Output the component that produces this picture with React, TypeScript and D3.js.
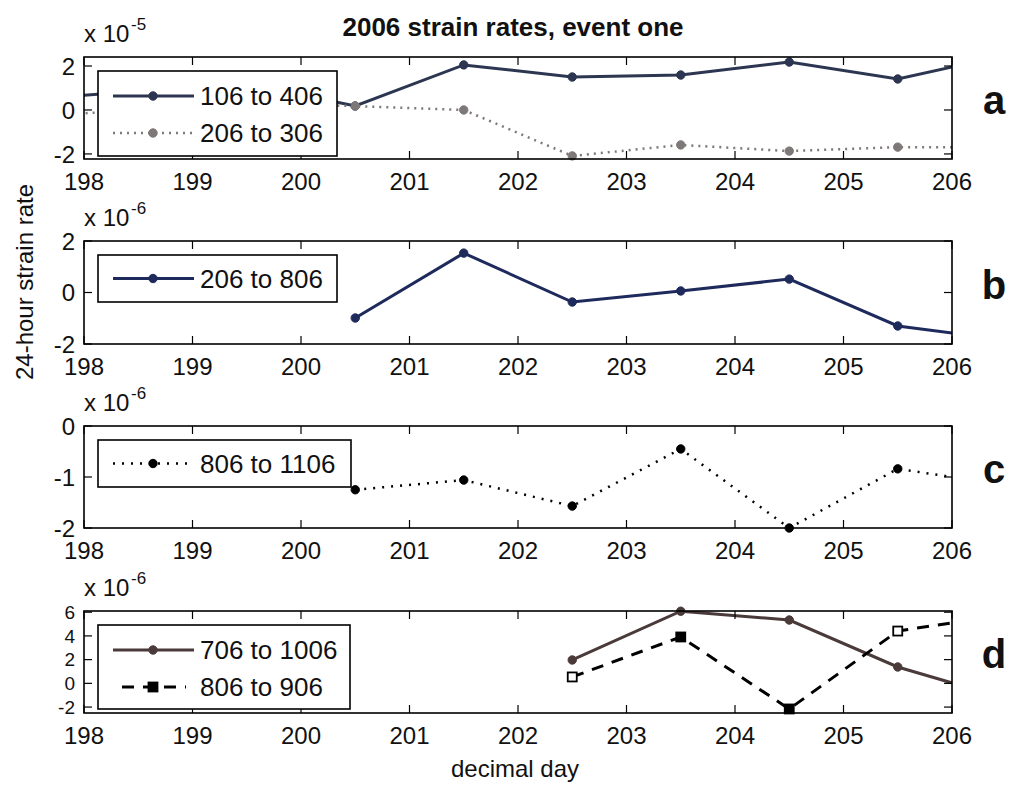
import React from "react";
import * as d3 from "d3";

// ---------- data ----------
const xTicks = [198, 199, 200, 201, 202, 203, 204, 205, 206];

const dayA = [197.5, 198.5, 199.5, 200.5, 201.5, 202.5, 203.5, 204.5, 205.5, 206.5];
const s106to406 = [0.5, 0.85, 1.2, 0.18, 2.05, 1.5, 1.59, 2.18, 1.41, 2.5];
const s206to306 = [-0.3, 0.0, 0.3, 0.18, 0.0, -2.09, -1.59, -1.87, -1.69, -1.69];

const dayB = [200.5, 201.5, 202.5, 203.5, 204.5, 205.5, 206.5];
const s206to806 = [-0.99, 1.53, -0.37, 0.06, 0.52, -1.3, -1.85];

const dayC = [200.5, 201.5, 202.5, 203.5, 204.5, 205.5, 206.5];
const s806to1106 = [-1.25, -1.06, -1.57, -0.45, -2.0, -0.84, -1.16];

const dayD = [202.5, 203.5, 204.5, 205.5, 206.5];
const s706to1006 = [1.97, 6.08, 5.34, 1.38, -1.3];
const s806to906 = [0.54, 3.91, -2.16, 4.41, 5.8];
const openSquareDays = [202.5, 205.5];

const yTicksA = [-2, 0, 2];
const yTicksB = [-2, 0, 2];
const yTicksC = [-2, -1, 0];
const yTicksD = [-2, 0, 2, 4, 6];

const exponents = ["-5", "-6", "-6", "-6"];
const panelLetters = ["a", "b", "c", "d"];

// ---------- layout ----------
const W = 1013;
const H = 787;
const X0 = 84;
const X1 = 952;
const FONT = "'Liberation Sans', Arial, Helvetica, sans-serif";

type Series = {
  name: string;
  days: number[];
  values: number[];
  color: string;
  width: number;
  dash?: string;
  marker: "circle" | "square";
  open?: number[];
};

type Panel = {
  top: number;
  bottom: number;
  domain: [number, number];
  ticks: number[];
  tickFont: number;
  series: Series[];
  legendW: number;
  legendH: number;
};

const panels: Panel[] = [
  {
    top: 57,
    bottom: 159,
    domain: [-2.23, 2.41],
    ticks: yTicksA,
    tickFont: 24,
    legendW: 239,
    legendH: 85,
    series: [
      { name: "106 to 406", days: dayA, values: s106to406, color: "#2c3650", width: 3, marker: "circle" },
      { name: "206 to 306", days: dayA, values: s206to306, color: "#7e7878", width: 2.5, dash: "2 5", marker: "circle" },
    ],
  },
  {
    top: 241,
    bottom: 344,
    domain: [-2, 2],
    ticks: yTicksB,
    tickFont: 24,
    legendW: 239,
    legendH: 47,
    series: [
      { name: "206 to 806", days: dayB, values: s206to806, color: "#1f2a5c", width: 3, marker: "circle" },
    ],
  },
  {
    top: 426,
    bottom: 528,
    domain: [-2, 0],
    ticks: yTicksC,
    tickFont: 24,
    legendW: 253,
    legendH: 47,
    series: [
      { name: "806 to 1106", days: dayC, values: s806to1106, color: "#000000", width: 2.5, dash: "2 7", marker: "circle" },
    ],
  },
  {
    top: 611,
    bottom: 713,
    domain: [-2.5, 6.1],
    ticks: yTicksD,
    tickFont: 19,
    legendW: 252,
    legendH: 84,
    series: [
      { name: "706 to 1006", days: dayD, values: s706to1006, color: "#4a3a3a", width: 3, marker: "circle" },
      { name: "806 to 906", days: dayD, values: s806to906, color: "#000000", width: 3, dash: "12 9", marker: "square", open: openSquareDays },
    ],
  },
];

const x = d3.scaleLinear().domain([198, 206]).range([X0, X1]);

function Marker({ cx, cy, s, open }: { cx: number; cy: number; s: Series; open?: boolean }) {
  if (s.marker === "square") {
    return (
      <rect
        x={cx - 4.5}
        y={cy - 4.5}
        width={9}
        height={9}
        fill={open ? "#fff" : s.color}
        stroke={s.color}
        strokeWidth={1.8}
      />
    );
  }
  return <circle cx={cx} cy={cy} r={4.2} fill={s.color} stroke={s.color} strokeWidth={1} />;
}

function PanelView({ p, i }: { p: Panel; i: number }) {
  const y = d3.scaleLinear().domain(p.domain).range([p.bottom, p.top]);
  const clipId = `clip${i}`;
  const line = d3
    .line<[number, number]>()
    .x((d) => x(d[0]))
    .y((d) => y(d[1]));
  const lx = X0 + 14;
  const ly = p.top + 14;
  const rowCount = p.series.length;
  return (
    <g>
      <defs>
        <clipPath id={clipId}>
          <rect x={X0} y={p.top} width={X1 - X0} height={p.bottom - p.top} />
        </clipPath>
      </defs>
      <rect x={X0} y={p.top} width={X1 - X0} height={p.bottom - p.top} fill="#fff" />
      {p.series.map((s, k) => {
        const pts = s.days.map((d, j) => [d, s.values[j]] as [number, number]);
        return (
          <g key={k}>
            <path
              d={line(pts) || ""}
              fill="none"
              stroke={s.color}
              strokeWidth={s.width}
              strokeDasharray={s.dash}
              clipPath={`url(#${clipId})`}
            />
            {pts
              .filter((d) => d[0] >= 198 && d[0] <= 206)
              .map((d, j) => (
                <Marker key={j} cx={x(d[0])} cy={y(d[1])} s={s} open={s.open ? s.open.includes(d[0]) : false} />
              ))}
          </g>
        );
      })}
      {xTicks.map((t) => (
        <g key={"xt" + t}>
          <line x1={x(t)} x2={x(t)} y1={p.bottom} y2={p.bottom - 8} stroke="#000" strokeWidth={1.2} />
          <line x1={x(t)} x2={x(t)} y1={p.top} y2={p.top + 8} stroke="#000" strokeWidth={1.2} />
          <text
            x={x(t)}
            y={p.bottom + 31}
            textAnchor="middle"
            fontSize={24}
            fontFamily={FONT}
            fill="#111"
          >
            {t}
          </text>
        </g>
      ))}
      {p.ticks.map((t) => (
        <g key={"yt" + t}>
          <line x1={X0} x2={X0 + 8} y1={y(t)} y2={y(t)} stroke="#000" strokeWidth={1.2} />
          <line x1={X1} x2={X1 - 8} y1={y(t)} y2={y(t)} stroke="#000" strokeWidth={1.2} />
          <text
            x={75}
            y={y(t)}
            dy="0.36em"
            textAnchor="end"
            fontSize={p.tickFont}
            fontFamily={FONT}
            fill="#111"
          >
            {t}
          </text>
        </g>
      ))}
      <rect x={X0} y={p.top} width={X1 - X0} height={p.bottom - p.top} fill="none" stroke="#000" strokeWidth={1.6} />
      <text x={X0} y={p.top - 15} fontSize={24} fontFamily={FONT} fill="#111">
        x 10
      </text>
      <text x={X0 + 47} y={p.top - 27} fontSize={17} fontFamily={FONT} fill="#111">
        {exponents[i]}
      </text>
      <rect x={lx} y={ly} width={p.legendW} height={p.legendH} fill="#fff" stroke="#000" strokeWidth={1.6} />
      {p.series.map((s, k) => {
        const ry = rowCount === 1 ? ly + p.legendH / 2 : ly + 25 + k * 37;
        const dashed = s.dash && s.dash.startsWith("12");
        return (
          <g key={"lg" + k}>
            <line
              x1={dashed ? lx + 24 : lx + 15}
              x2={dashed ? lx + 88 : lx + 96}
              y1={ry}
              y2={ry}
              stroke={s.color}
              strokeWidth={s.width}
              strokeDasharray={s.dash}
            />
            <Marker cx={lx + 55} cy={ry} s={s} />
            <text
              x={lx + 102}
              y={ry}
              dy="0.36em"
              fontSize={26}
              fontFamily={FONT}
              fill="#111"
            >
              {s.name}
            </text>
          </g>
        );
      })}
      <text
        x={994}
        y={(p.top + p.bottom) / 2 + 6}
        textAnchor="middle"
        fontSize={40}
        fontWeight="bold"
        fontFamily={FONT}
        fill="#111"
      >
        {panelLetters[i]}
      </text>
    </g>
  );
}

export default function App() {
  return (
    <svg
      width={W}
      height={H}
      viewBox={`0 0 ${W} ${H}`}
      style={{ position: "absolute", left: 0, top: 0, background: "#fff" }}
    >
      <rect x={0} y={0} width={W} height={H} fill="#fff" />
      <text
        x={513}
        y={36}
        textAnchor="middle"
        fontSize={26}
        fontWeight="bold"
        fontFamily={FONT}
        fill="#111"
      >
        2006 strain rates, event one
      </text>
      {panels.map((p, i) => (
        <PanelView key={i} p={p} i={i} />
      ))}
      <text
        transform={`translate(33,282) rotate(-90)`}
        textAnchor="middle"
        fontSize={24}
        fontFamily={FONT}
        fill="#111"
      >
        24-hour strain rate
      </text>
      <text x={515} y={777} textAnchor="middle" fontSize={24} fontFamily={FONT} fill="#111">
        decimal day
      </text>
    </svg>
  );
}
